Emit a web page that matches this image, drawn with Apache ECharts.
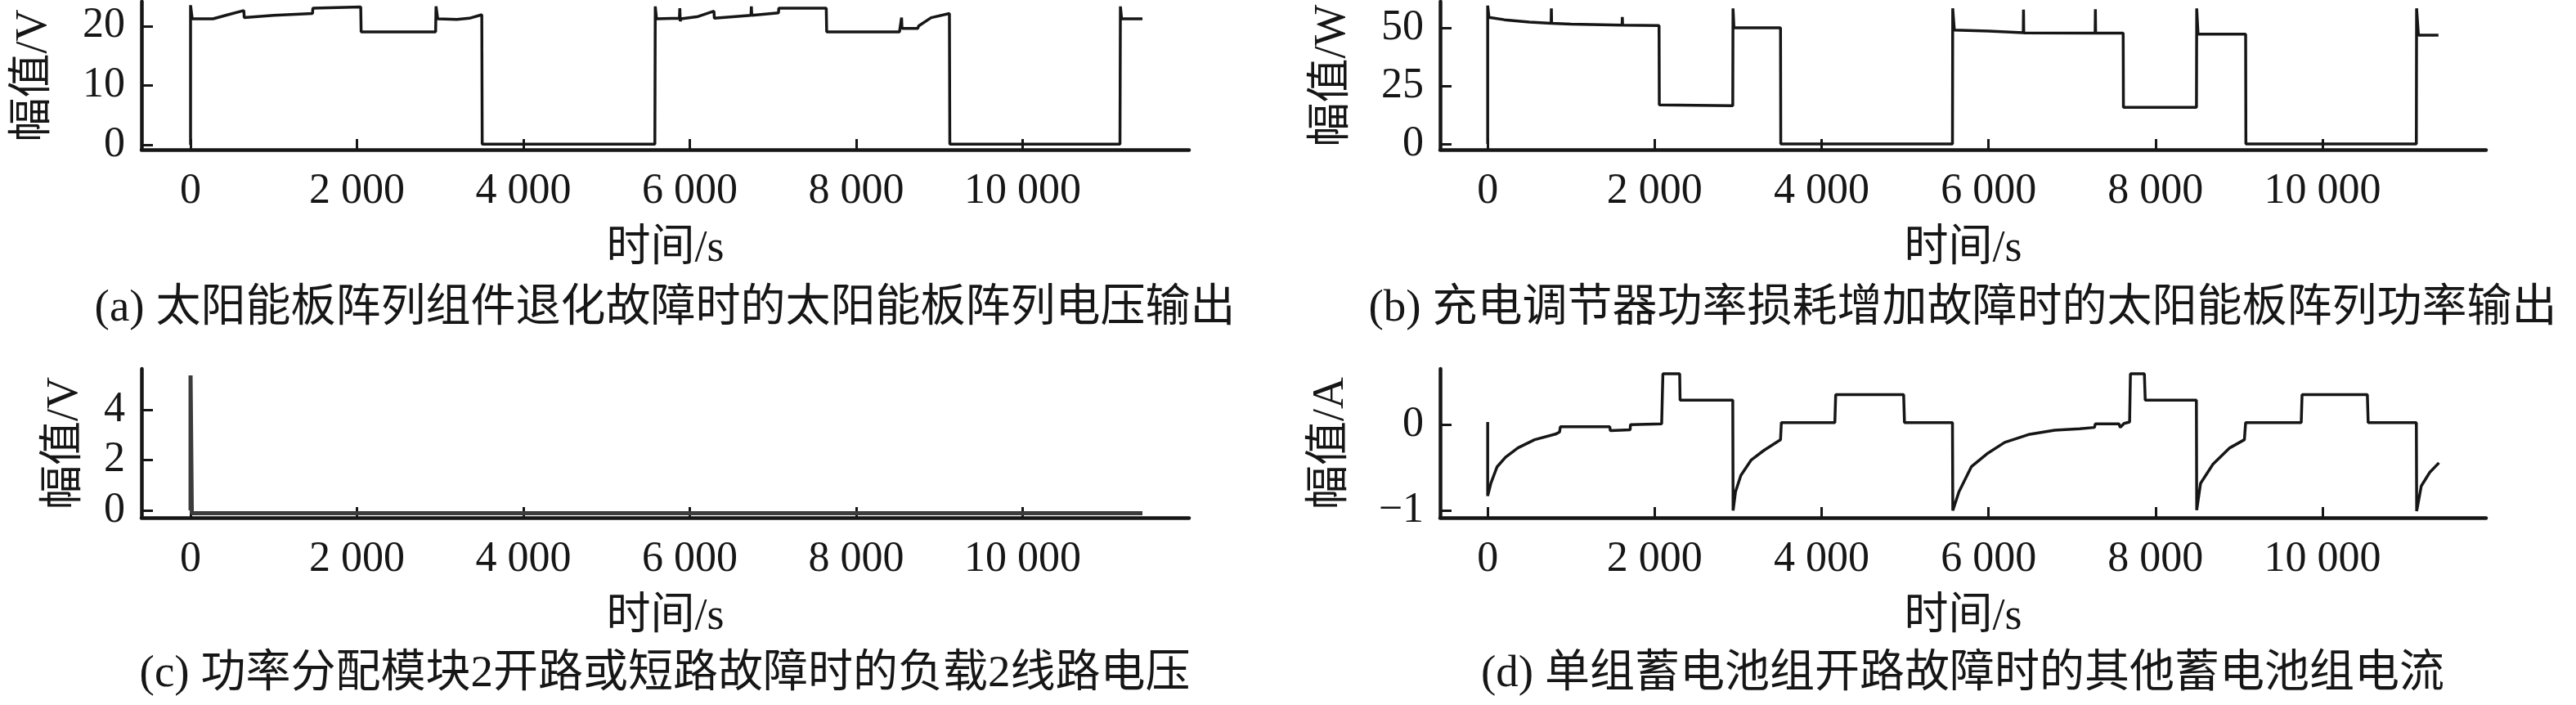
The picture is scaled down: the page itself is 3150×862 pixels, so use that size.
<!DOCTYPE html>
<html>
<head>
    <meta charset="utf-8">
    <title>ECharts</title>
    <script src="https://cdn.jsdelivr.net/npm/echarts@6/dist/echarts.min.js"></script>
    <style>body{margin:0;background:#fff;}</style>
</head>
<body>
    <div id="main" style="width: 3150px;height:862px;"></div>
    <script type="text/javascript">
        // (a) solar array voltage, V
        var timeA = [0, 0, 20, 270, 450, 640, 645, 1000, 1465, 1470, 2045, 2050, 2945, 2950, 2970, 3200, 3350, 3500, 3505, 5580, 5585, 5600, 5875, 5880, 5885, 5895, 6100, 6290, 6295, 6735, 6740, 6745, 7065, 7070, 7640, 7645, 8520, 8545, 8550, 8740, 8750, 8900, 9120, 9125, 11170, 11175, 11190, 11440];
        var voltA = [0, 23.5, 21.2, 21.2, 21.9, 22.6, 21.4, 21.8, 22.1, 23.0, 23.2, 19.0, 19.0, 23.3, 21.2, 21.1, 21.3, 21.9, 0.1, 0.1, 23.3, 21.2, 21.3, 23.0, 20.8, 21.2, 21.6, 22.5, 21.3, 21.8, 23.3, 21.8, 22.2, 23.0, 23.0, 19.0, 19.0, 21.4, 19.6, 19.6, 20.0, 21.4, 22.1, 0.1, 0.1, 23.3, 21.2, 21.2];
        // (b) solar array power, W
        var timeB = [0, 0, 15, 200, 500, 760, 763, 766, 1000, 1610, 1613, 1616, 2053, 2056, 2936, 2939, 2950, 3508, 3511, 5568, 5571, 5590, 6000, 6416, 6419, 6422, 7277, 7280, 7283, 7613, 7616, 8491, 8494, 8510, 9080, 9083, 11125, 11128, 11150, 11390];
        var powerB = [0, 59.6, 54.5, 53.5, 52.5, 52.0, 58.4, 52.0, 51.6, 51.2, 54.7, 51.2, 51.0, 16.8, 16.5, 58.4, 50.0, 50.0, 0, 0, 58.4, 49.1, 48.6, 47.9, 57.9, 47.8, 47.7, 58.0, 47.7, 47.7, 15.8, 15.8, 58.4, 47.3, 47.3, 0, 0, 58.4, 46.9, 46.9];
        // (c) load 2 line voltage, V
        var timeC = [0, 0, 15, 11440];
        var voltC = [0, 5.37, -0.11, -0.11];
        // (d) other battery group current, A
        var timeD = [0, 0, 39, 113, 213, 362, 562, 812, 861, 871, 1462, 1470, 1706, 1711, 2084, 2099, 2300, 2305, 2936, 2940, 2969, 3033, 3158, 3308, 3483, 3508, 3518, 4159, 4169, 4983, 4993, 5568, 5572, 5646, 5794, 5994, 6194, 6494, 6793, 7093, 7269, 7279, 7563, 7578, 7588, 7623, 7690, 7700, 7867, 7877, 8490, 8494, 8540, 8689, 8890, 9065, 9080, 9746, 9756, 10538, 10548, 11125, 11129, 11184, 11286, 11396];
        var currD = [0.03, -0.83, -0.68, -0.49, -0.38, -0.27, -0.175, -0.11, -0.086, -0.023, -0.023, -0.07, -0.06, 0, 0.01, 0.593, 0.593, 0.286, 0.286, -1.0, -0.78, -0.59, -0.41, -0.30, -0.19, -0.175, 0.025, 0.025, 0.349, 0.349, 0.025, 0.025, -1.0, -0.78, -0.49, -0.33, -0.206, -0.111, -0.064, -0.048, -0.032, 0.009, 0.009, -0.032, -0.016, 0.015, 0.031, 0.593, 0.593, 0.286, 0.286, -0.995, -0.683, -0.46, -0.27, -0.175, 0.025, 0.025, 0.349, 0.349, 0.025, 0.025, -1.006, -0.714, -0.555, -0.444];

        var xTicks = [0, 2000, 4000, 6000, 8000, 10000];
        var yTicksA = [0, 10, 20];
        var yTicksB = [0, 25, 50];
        var yTicksC = [0, 2, 4];
        var yTicksD = [-1, 0];

        var captions = [
            '(a) 太阳能板阵列组件退化故障时的太阳能板阵列电压输出',
            '(b) 充电调节器功率损耗增加故障时的太阳能板阵列功率输出',
            '(c) 功率分配模块2开路或短路故障时的负载2线路电压',
            '(d) 单组蓄电池组开路故障时的其他蓄电池组电流'
        ];
        var yNames = ['幅值/V', '幅值/W', '幅值/V', '幅值/A'];

        var fam = "'Liberation Serif', 'Noto Sans CJK SC', serif";
        var ink = '#161616';

        function zip(xs, ys) {
            var out = [];
            for (var i = 0; i < xs.length; i++) out.push([xs[i], ys[i]]);
            return out;
        }
        function fmtX(v) {
            if (v >= 1000) {
                var s = String(v);
                return s.slice(0, s.length - 3) + ' ' + s.slice(s.length - 3);
            }
            return String(v);
        }
        function fmtY(v) {
            return v < 0 ? '\u2212' + Math.abs(v) : String(v);
        }

        var grids = [
            {left: 173, top: 2, width: 1281, height: 181},
            {left: 1761, top: 2, width: 1279, height: 181},
            {left: 173, top: 451, width: 1281, height: 182},
            {left: 1761, top: 451, width: 1279, height: 182}
        ];
        var xRanges = [[-590, 12000], [-570, 11960], [-590, 12000], [-570, 11960]];
        var yRanges = [[-0.83, 24.1], [-2.46, 61.3], [-0.29, 5.63], [-1.083, 0.65]];
        var yTicks = [yTicksA, yTicksB, yTicksC, yTicksD];
        var yNameGap = [104, 104, 66, 106];

        var xAxes = [], yAxes = [];
        for (var g = 0; g < 4; g++) {
            xAxes.push({
                type: 'value', gridIndex: g,
                min: xRanges[g][0], max: xRanges[g][1],
                name: '时间/s', nameLocation: 'middle', nameGap: 95,
                nameTextStyle: {fontFamily: fam, fontSize: 54, color: ink},
                axisLine: {onZero: false, lineStyle: {color: ink, width: 4.5}},
                axisTick: {inside: true, length: 13, customValues: xTicks, lineStyle: {color: ink, width: 3}},
                axisLabel: {customValues: xTicks, formatter: fmtX, margin: 25, fontFamily: fam, fontSize: 52, color: ink},
                splitLine: {show: false}
            });
            yAxes.push({
                type: 'value', gridIndex: g,
                min: yRanges[g][0], max: yRanges[g][1],
                name: yNames[g], nameLocation: 'middle', nameGap: yNameGap[g],
                nameTextStyle: {fontFamily: fam, fontSize: 54, color: ink},
                axisLine: {onZero: false, lineStyle: {color: ink, width: 4.5}},
                axisTick: {inside: true, length: 14, customValues: yTicks[g], lineStyle: {color: ink, width: 3}},
                axisLabel: {customValues: yTicks[g], formatter: fmtY, margin: 20, fontFamily: fam, fontSize: 52, color: ink},
                splitLine: {show: false}
            });
        }

        var seriesData = [zip(timeA, voltA), zip(timeB, powerB), zip(timeC, voltC), zip(timeD, currD)];
        var series = [];
        for (var k = 0; k < 4; k++) {
            series.push({
                type: 'line', xAxisIndex: k, yAxisIndex: k,
                data: seriesData[k], showSymbol: false,
                lineStyle: {color: k === 2 ? '#3c3c3c' : ink, width: k === 2 ? 5 : 3.5},
                silent: true
            });
        }

        var capPos = [[813, 378], [2400, 378], [813, 825], [2400, 825]];
        var graphics = captions.map(function (t, i) {
            return {
                type: 'text', x: capPos[i][0], y: capPos[i][1],
                style: {
                    text: t, font: '55px ' + fam, fill: ink,
                    textAlign: 'center', textVerticalAlign: 'middle',
                    align: 'center', verticalAlign: 'middle'
                }
            };
        });

        var myChart = echarts.init(document.getElementById('main'));
        var option = {
            backgroundColor: '#fff',
            animation: false,
            grid: grids,
            xAxis: xAxes,
            yAxis: yAxes,
            series: series,
            graphic: graphics
        };
        myChart.setOption(option);
    </script>
</body>
</html>
